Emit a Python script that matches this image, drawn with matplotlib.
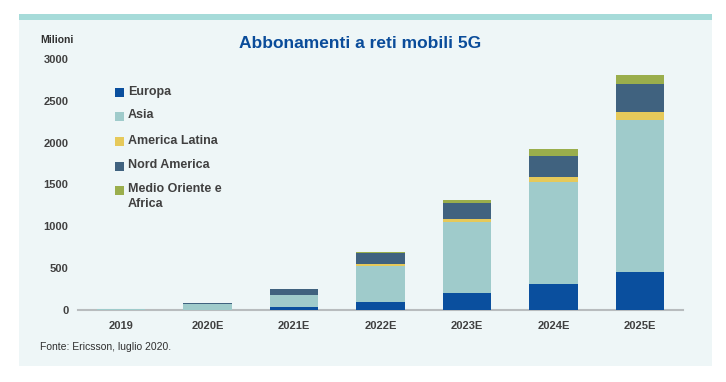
import matplotlib
matplotlib.use("Agg")
import matplotlib.pyplot as plt
from matplotlib.patches import Rectangle
import numpy as np
from matplotlib import font_manager

names = {f.name for f in font_manager.fontManager.ttflist}
NARROW = "Liberation Sans Narrow" if "Liberation Sans Narrow" in names else "Liberation Sans"

years = ["2019", "2020E", "2021E", "2022E", "2023E", "2024E", "2025E"]
series_names = ["Europa", "Asia", "America Latina", "Nord America", "Medio Oriente e\nAfrica"]
europa = [2, 5, 35, 100, 205, 310, 455]
asia = [10, 70, 145, 430, 845, 1220, 1815]
america_latina = [0, 1, 5, 25, 36, 60, 95]
nord_america = [3, 8, 65, 130, 190, 250, 335]
medio_oriente_africa = [0, 1, 3, 10, 36, 85, 108]
colors = ["#0a4f9e", "#9fcbcb", "#e6c95a", "#40627f", "#9aae4c"]
yticks = [0, 500, 1000, 1500, 2000, 2500, 3000]

W, H = 726, 382
fig = plt.figure(figsize=(W / 100, H / 100), dpi=100)
fig.patch.set_facecolor("white")

# background panel and top strip
fig.patches.append(Rectangle((19 / W, 1 - 366 / H), (712 - 19) / W, (366 - 14) / H,
                             transform=fig.transFigure, facecolor="#eef6f7", edgecolor="none", zorder=-2))
fig.patches.append(Rectangle((19 / W, 1 - 20 / H), (712 - 19) / W, 6 / H,
                             transform=fig.transFigure, facecolor="#a6dbd9", edgecolor="none", zorder=-1))

ax = fig.add_axes([78 / W, 1 - 310 / H, 605 / W, 251 / H])
ax.set_zorder(2)
ax.set_facecolor("none")
x = np.arange(len(years))
bottom = np.zeros(len(years))
data = [europa, asia, america_latina, nord_america, medio_oriente_africa]
for vals, c in zip(data, colors):
    ax.bar(x, vals, 0.56, bottom=bottom, color=c, edgecolor="none", zorder=2)
    bottom += np.array(vals)

ax.set_xlim(-0.5, len(years) - 0.5)
ax.set_ylim(0, 3000)
ax.set_yticks(yticks)
ax.set_yticklabels([str(v) for v in yticks], fontsize=8, color="#404040",
                   family=NARROW, fontweight="bold")
ax.set_xticks(x)
ax.set_xticklabels(years, fontsize=8, color="#404040", family=NARROW, fontweight="bold")
for s in ["top", "right", "left"]:
    ax.spines[s].set_visible(False)
ax.spines["bottom"].set_color("#b8bcbe")
ax.spines["bottom"].set_linewidth(1.5)
ax.spines["bottom"].set_zorder(1)
ax.tick_params(axis="both", length=0)
ax.tick_params(axis="y", pad=7)
ax.tick_params(axis="x", pad=8)

# title and labels
fig.text(360 / W, 1 - 43 / H, "Abbonamenti a reti mobili 5G", ha="center", va="center",
         fontsize=12.5, fontweight="bold", color="#0a4c9a", family=NARROW)
fig.text(40 / W, 1 - 40 / H, "Milioni", ha="left", va="center", fontsize=7.5,
         color="#303030", family=NARROW, fontweight="bold")
fig.text(40 / W, 1 - 347 / H, "Fonte: Ericsson, luglio 2020.", ha="left", va="center",
         fontsize=7.5, color="#303030", family=NARROW)

# legend
ys = [92, 116, 141, 166, 190]
for name, c, yy in zip(series_names, colors, ys):
    fig.patches.append(Rectangle((115 / W, 1 - (yy + 4.5) / H), 9 / W, 9 / H,
                                 transform=fig.transFigure, facecolor=c, edgecolor="none", zorder=3))
    fig.text(128 / W, 1 - (yy - 6.5) / H, name, ha="left", va="top", fontsize=9,
             fontweight="bold", color="#404040", family="Liberation Sans", linespacing=1.3)

fig.savefig("out.png", dpi=100, facecolor="white")
